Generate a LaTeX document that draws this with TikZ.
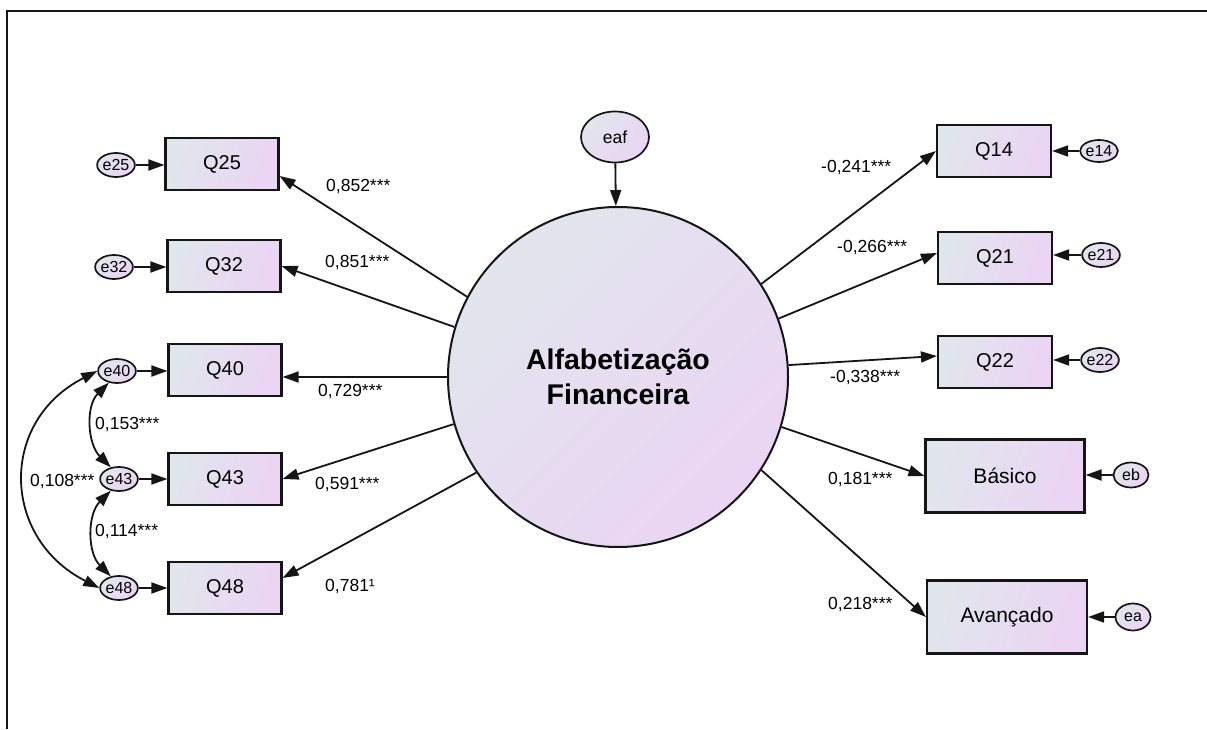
\documentclass[tikz,border=0pt]{standalone}
\usepackage{fontspec}
\setmainfont{Liberation Sans}
\usetikzlibrary{arrows.meta,calc,shapes.geometric}
\definecolor{shadeA}{HTML}{E1E6EC}
\definecolor{shadeB}{HTML}{EBD4F4}
\definecolor{ink}{HTML}{151515}

\begin{document}
\begin{tikzpicture}[x=1pt,y=1pt,
  grad/.style={top color=shadeA,bottom color=shadeB,shading angle=45},
  gradbox/.style={top color=shadeA,bottom color=shadeB,shading angle=70},
  obs/.style={draw=ink,line width=2.1pt,gradbox,rectangle,inner sep=0pt,
    minimum width=113pt,minimum height=52pt,font=\fontsize{20}{24}\selectfont},
  obsbig/.style={obs,minimum width=159pt,minimum height=73pt,font=\fontsize{21}{24}\selectfont},
  err/.style={draw=ink,line width=1.7pt,grad,ellipse,inner sep=0pt,
    minimum width=35pt,minimum height=24pt,font=\fontsize{16}{18}\selectfont},
  arr/.style={draw=ink,line width=1.8pt,-{Triangle[length=16pt,width=11pt]}},
  cov/.style={draw=ink,line width=1.8pt,
    {Triangle[length=16pt,width=11pt]}-{Triangle[length=16pt,width=11pt]}},
  coef/.style={anchor=west,inner sep=0pt,font=\fontsize{17.5}{19}\selectfont}
]
\useasboundingbox (0,0) rectangle (1207,729);

% frame
\draw[ink,line width=2.6pt] (7,0) -- (7,718) -- (1207,718);

% latent factor and its disturbance
\node[draw=ink,line width=2pt,grad,circle,minimum size=340pt,inner sep=0pt,
  align=center,font=\bfseries\fontsize{28.5}{35}\selectfont] (F) at (618,352)
  {Alfabetização\\Financeira};
\node[err,minimum width=68pt,minimum height=51pt,font=\fontsize{17.5}{20}\selectfont]
  (eaf) at (615,592) {eaf};
\draw[arr] (eaf) -- (F);

% left indicators
\node[obs] (Q25) at (222,565) {Q25};
\node[obs] (Q32) at (224,463) {Q32};
\node[obs] (Q40) at (225,359) {Q40};
\node[obs] (Q43) at (225,250) {Q43};
\node[obs] (Q48) at (225,141) {Q48};

\node[err] (e25) at (116,564) {e25};
\node[err] (e32) at (114,462) {e32};
\node[err] (e40) at (117,358) {e40};
\node[err] (e43) at (119,250) {e43};
\node[err] (e48) at (119,141) {e48};

\draw[arr] (e25.east) -- (e25 -| Q25.west);
\draw[arr] (e32.east) -- (e32 -| Q32.west);
\draw[arr] (e40.east) -- (e40 -| Q40.west);
\draw[arr] (e43.east) -- (e43 -| Q43.west);
\draw[arr] (e48.east) -- (e48 -| Q48.west);

\draw[arr] (F.152) -- ($(Q25.east)+(0,-12)$);
\draw[arr] (F.163) -- (Q32.east);
\draw[arr] (F.180) -- ($(Q40.east)+(0,-7)$);
\draw[arr] (F.196) -- (Q43.east);
\draw[arr] (F.214) -- ($(Q48.east)+(0,10)$);

\node[coef] (l25) at (326,542) {0,852***};
\node[coef] (l32) at (325,466) {0,851***};
\node[coef] (l40) at (318,337) {0,729***};
\node[coef] (l43) at (315,244) {0,591***};
\node[coef] (l48) at (325,142) {0,781¹};

% residual covariances
\draw[cov] (e40.235) to[out=225,in=135] (e43.125);
\draw[cov] (e43.235) to[out=225,in=135] (e48.125);
\draw[cov] (e40.west) to[out=207,in=153,looseness=1.3] (e48.west);

\node[coef] (c4043) at (95,304) {0,153***};
\node[coef] (c4348) at (95,197) {0,114***};
\node[coef] (c4048) at (30,247) {0,108***};

% right indicators
\node[obs,minimum width=114pt] (Q14) at (994,578) {Q14};
\node[obs,minimum width=114pt] (Q21) at (995,471) {Q21};
\node[obs,minimum width=114pt] (Q22) at (995,367) {Q22};
\node[obsbig] (Bas) at (1005,253) {Básico};
\node[obsbig,minimum width=160pt] (Ava) at (1007,112) {Avançado};

\node[err,minimum height=22pt] (e14) at (1099,578) {e14};
\node[err] (e21) at (1101,474) {e21};
\node[err] (e22) at (1100,369) {e22};
\node[err,minimum height=25pt] (eb) at (1131,254) {eb};
\node[err,minimum height=27pt] (ea) at (1133,112) {ea};

\draw[arr] (e14.west) -- (e14 -| Q14.east);
\draw[arr] (e21.west) -- (e21 -| Q21.east);
\draw[arr] (e22.west) -- (e22 -| Q22.east);
\draw[arr] (eb.west) -- (eb -| Bas.east);
\draw[arr] (ea.west) -- (ea -| Ava.east);

\draw[arr] (F.33) -- (Q14.west);
\draw[arr] (F.20) -- ($(Q21.west)+(0,5)$);
\draw[arr] (F.4) -- ($(Q22.west)+(0,6)$);
\draw[arr] (F.-17) -- (Bas.west);
\draw[arr] (F.-33) -- (Ava.west);

\node[coef] (l14) at (821,561) {-0,241***};
\node[coef] (l21) at (837,481) {-0,266***};
\node[coef] (l22) at (830,351) {-0,338***};
\node[coef] (lb) at (828,249) {0,181***};
\node[coef] (la) at (828,124) {0,218***};
\end{tikzpicture}
\end{document}
